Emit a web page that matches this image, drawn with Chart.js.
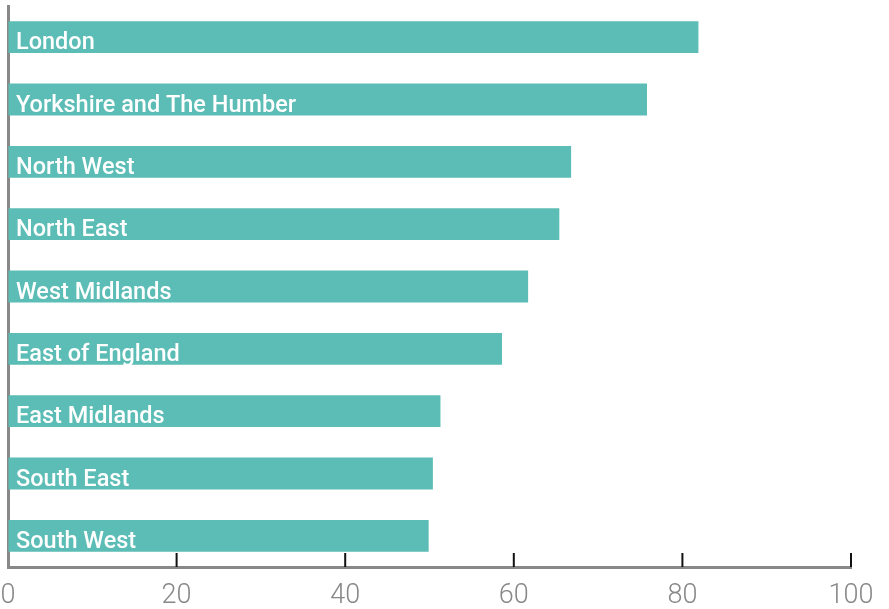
<!DOCTYPE html>
<html>
<head>
<meta charset="utf-8">
<script src="https://cdn.jsdelivr.net/npm/chart.js@4"></script>
<style>
  html, body { margin: 0; padding: 0; background: #fff; }
  #wrap { width: 889px; height: 609px; }
</style>
</head>
<body>
<div id="wrap"><canvas id="chart"></canvas></div>
<script>
const regions = ["London", "Yorkshire and The Humber", "North West", "North East", "West Midlands", "East of England", "East Midlands", "South East", "South West"];
const values = [81.9, 75.8, 66.8, 65.4, 61.7, 58.6, 51.3, 50.4, 49.9];
const xTicks = [0, 20, 40, 60, 80, 100];

const teal = "#5bbdb5";

// labels written inside each bar
const barLabels = {
  id: "barLabels",
  afterDatasetsDraw(chart) {
    const ctx = chart.ctx;
    const meta = chart.getDatasetMeta(0);
    ctx.save();
    ctx.fillStyle = "#fff";
    ctx.font = "500 23.5px Roboto";
    ctx.textAlign = "left";
    ctx.textBaseline = "alphabetic";
    meta.data.forEach((bar, i) => {
      ctx.fillText(regions[i], chart.chartArea.left + 8, bar.y + 12);
    });
    ctx.restore();
  }
};

// inward tick marks on the x axis
const innerTicks = {
  id: "innerTicks",
  afterDraw(chart) {
    const ctx = chart.ctx;
    const x = chart.scales.x;
    const bottom = chart.chartArea.bottom;
    ctx.save();
    ctx.strokeStyle = "#111";
    ctx.lineWidth = 2;
    xTicks.forEach(v => {
      if (v === 0) return;
      const px = x.getPixelForValue(v);
      ctx.beginPath();
      ctx.moveTo(px, bottom - 14);
      ctx.lineTo(px, bottom);
      ctx.stroke();
    });
    ctx.restore();
  }
};

new Chart(document.getElementById("chart"), {
  type: "bar",
  data: {
    labels: regions,
    datasets: [{
      data: values,
      backgroundColor: teal,
      borderWidth: 0,
      categoryPercentage: 1,
      barPercentage: 0.512
    }]
  },
  options: {
    indexAxis: "y",
    responsive: true,
    maintainAspectRatio: false,
    animation: false,
    layout: { padding: { left: 8, right: 38, top: 6, bottom: 0 } },
    plugins: { legend: { display: false }, tooltip: { enabled: false } },
    scales: {
      x: {
        min: 0,
        max: 100,
        afterBuildTicks(scale) { scale.ticks = xTicks.map(v => ({ value: v })); },
        afterFit(scale) { scale.paddingLeft = 0; scale.paddingRight = 0; scale.height = 42; },
        grid: { drawOnChartArea: false, drawTicks: false },
        border: { color: "#888", width: 3 },
        ticks: { color: "#888", font: { size: 27, family: "Roboto", weight: 300, lineHeight: 1 }, padding: 16 }
      },
      y: {
        afterFit(scale) { scale.width = 0; },
        grid: { display: false, drawTicks: false },
        border: { color: "#888", width: 3 },
        ticks: { display: false }
      }
    }
  },
  plugins: [barLabels, innerTicks]
});
</script>
</body>
</html>
